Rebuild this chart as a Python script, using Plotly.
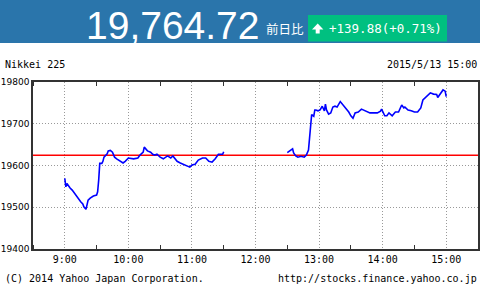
import plotly.graph_objects as go

W, H = 480, 290
DATE = "2015-05-13"

title = "Nikkei 225"
stamp = "2015/5/13 15:00"
footer_left = "(C) 2014 Yahoo Japan Corporation."
footer_right = "http://stocks.finance.yahoo.co.jp"

last_value = 19764.72
change = 139.88
change_pct = 0.71
prev_close = 19624.84

am_times = ["09:00", "09:01", "09:02", "09:03", "09:05", "09:07", "09:09", "09:11", "09:13", "09:15",
            "09:17", "09:18", "09:20", "09:21", "09:22", "09:24", "09:27", "09:30", "09:31", "09:32",
            "09:33", "09:35", "09:36", "09:37", "09:40", "09:41", "09:43", "09:45", "09:47", "09:49",
            "09:51", "09:53", "09:55", "09:57", "10:00", "10:05", "10:09", "10:11", "10:14", "10:15",
            "10:16", "10:18", "10:21", "10:23", "10:25", "10:27", "10:30", "10:33", "10:37", "10:40",
            "10:42", "10:46", "10:49", "10:52", "10:56", "10:58", "11:00", "11:03", "11:06", "11:10",
            "11:13", "11:16", "11:19", "11:22", "11:25", "11:29", "11:30"]
am_values = [19569, 19549, 19557, 19553, 19546, 19541, 19534, 19525, 19518, 19513,
             19508, 19501, 19495, 19505, 19517, 19522, 19527, 19529, 19537, 19565,
             19605, 19605, 19610, 19620, 19628, 19635, 19636, 19632, 19620, 19616,
             19613, 19608, 19606, 19610, 19618, 19616, 19618, 19625, 19632, 19644,
             19640, 19635, 19632, 19627, 19625, 19627, 19620, 19616, 19623, 19618,
             19623, 19610, 19606, 19603, 19599, 19596, 19601, 19603, 19613, 19618,
             19618, 19610, 19608, 19616, 19627, 19627, 19633]

pm_times = ["12:30", "12:35", "12:36", "12:38", "12:40", "12:43", "12:46", "12:48", "12:50", "12:52",
            "12:53", "12:55", "12:56", "12:57", "12:59", "13:01", "13:03", "13:05", "13:06", "13:07",
            "13:09", "13:11", "13:13", "13:15", "13:17", "13:20", "13:22", "13:24", "13:26", "13:28",
            "13:30", "13:32", "13:34", "13:37", "13:40", "13:43", "13:46", "13:48", "13:51", "13:55",
            "13:58", "13:59", "14:02", "14:04", "14:06", "14:09", "14:12", "14:15", "14:18", "14:20",
            "14:21", "14:24", "14:27", "14:30", "14:33", "14:36", "14:38", "14:41", "14:43", "14:45",
            "14:48", "14:51", "14:52", "14:55", "14:56", "14:57", "14:59", "15:00"]
pm_values = [19631, 19640, 19630, 19623, 19620, 19622, 19620, 19625, 19637, 19685,
             19722, 19718, 19733, 19733, 19731, 19733, 19742, 19731, 19747, 19733,
             19723, 19726, 19740, 19742, 19740, 19753, 19747, 19740, 19733, 19728,
             19719, 19713, 19726, 19728, 19735, 19731, 19728, 19726, 19726, 19726,
             19730, 19735, 19719, 19719, 19726, 19719, 19728, 19728, 19745, 19738,
             19740, 19733, 19731, 19728, 19728, 19738, 19757, 19764, 19769, 19774,
             19771, 19770, 19763, 19774, 19776, 19781, 19778, 19765]

y_ticks = [19400, 19500, 19600, 19700, 19800]
x_start, x_end = "08:30", "15:30"


def ts(t):
    return f"{DATE} {t}:00"


def px(x):
    return x / W


def py(y):
    return 1 - y / H


fig = go.Figure()
fig.add_trace(go.Scatter(x=[ts(x_start), ts(x_end)], y=[prev_close, prev_close], mode="lines",
                         line=dict(color="#ff0000", width=1.5), hoverinfo="skip"))
fig.add_trace(go.Scatter(x=[ts(t) for t in am_times], y=am_values, mode="lines",
                         line=dict(color="#0000ff", width=1.6), hoverinfo="skip"))
fig.add_trace(go.Scatter(x=[ts(t) for t in pm_times], y=pm_values, mode="lines",
                         line=dict(color="#0000ff", width=1.6), hoverinfo="skip"))

shapes = [
    dict(type="rect", xref="paper", yref="paper", x0=0, x1=1, y0=py(43), y1=1,
         fillcolor="#2a75ab", line=dict(width=0), layer="below"),
    dict(type="rect", xref="paper", yref="paper", x0=px(308), x1=px(447), y0=py(41.5), y1=py(15),
         fillcolor="#00c080", line=dict(width=0)),
]
arrow = [(312, 29.5), (317.7, 23.5), (323.4, 29.5), (319.7, 29.5), (319.7, 33.6), (315.7, 33.6), (315.7, 29.5)]
path = "M " + " L ".join(f"{px(a):.5f},{py(b):.5f}" for a, b in arrow) + " Z"
shapes.append(dict(type="path", xref="paper", yref="paper", path=path,
                   fillcolor="white", line=dict(width=0)))

mono = "DejaVu Sans Mono"
annotations = [
    dict(text=f"{last_value:,.2f}", x=px(173), y=py(25.5), xanchor="center", yanchor="middle",
         font=dict(family="Liberation Sans, Arial", size=39, color="white")),
    dict(text="前日比", x=px(284.5), y=py(29), xanchor="center", yanchor="middle",
         font=dict(family="Noto Sans CJK JP", size=12.5, color="white")),
    dict(text=f"+{change:.2f}(+{change_pct:.2f}%)", x=px(385), y=py(29), xanchor="center", yanchor="middle",
         font=dict(family=mono, size=12.5, color="white")),
    dict(text=title, x=px(3), y=py(64.5), xanchor="left", yanchor="middle",
         font=dict(family=mono, size=10, color="black")),
    dict(text=stamp, x=px(478.5), y=py(64.5), xanchor="right", yanchor="middle",
         font=dict(family=mono, size=10, color="black")),
    dict(text=footer_left, x=px(3), y=py(278), xanchor="left", yanchor="middle",
         font=dict(family=mono, size=10, color="black")),
    dict(text=footer_right, x=px(478.5), y=py(278), xanchor="right", yanchor="middle",
         font=dict(family=mono, size=10, color="black")),
]
for a in annotations:
    a.update(xref="paper", yref="paper", showarrow=False)

fig.update_layout(
    width=W, height=H,
    margin=dict(l=0, r=0, t=0, b=0, autoexpand=False),
    paper_bgcolor="white", plot_bgcolor="white",
    showlegend=False,
    shapes=shapes,
    annotations=annotations,
    xaxis=dict(
        domain=[px(33), px(478)],
        type="date",
        range=[ts(x_start), ts(x_end)],
        tick0=ts("09:00"), dtick=3600000, tickformat="%-H:%M",
        ticks="", showgrid=True, gridcolor="#999999", griddash="1px,2px", gridwidth=1,
        minor=dict(ticks="inside", dtick=1800000, tick0=ts("09:00"), ticklen=4,
                   tickcolor="#333333", showgrid=False),
        showline=True, linecolor="#333333", linewidth=1.5, mirror="allticks",
        zeroline=False,
        tickfont=dict(family=mono, size=10, color="black"),
        fixedrange=True,
    ),
    yaxis=dict(
        domain=[py(249), py(82)],
        range=[y_ticks[0], y_ticks[-1]],
        tickvals=y_ticks, ticktext=[str(v) for v in y_ticks],
        ticks="", showgrid=True, gridcolor="#999999", griddash="1px,2px", gridwidth=1,
        showline=True, linecolor="#333333", linewidth=1.5, mirror=True,
        zeroline=False,
        tickfont=dict(family="DejaVu Sans", size=9, color="black"),
        fixedrange=True,
    ),
)

fig.write_html("out.html")
